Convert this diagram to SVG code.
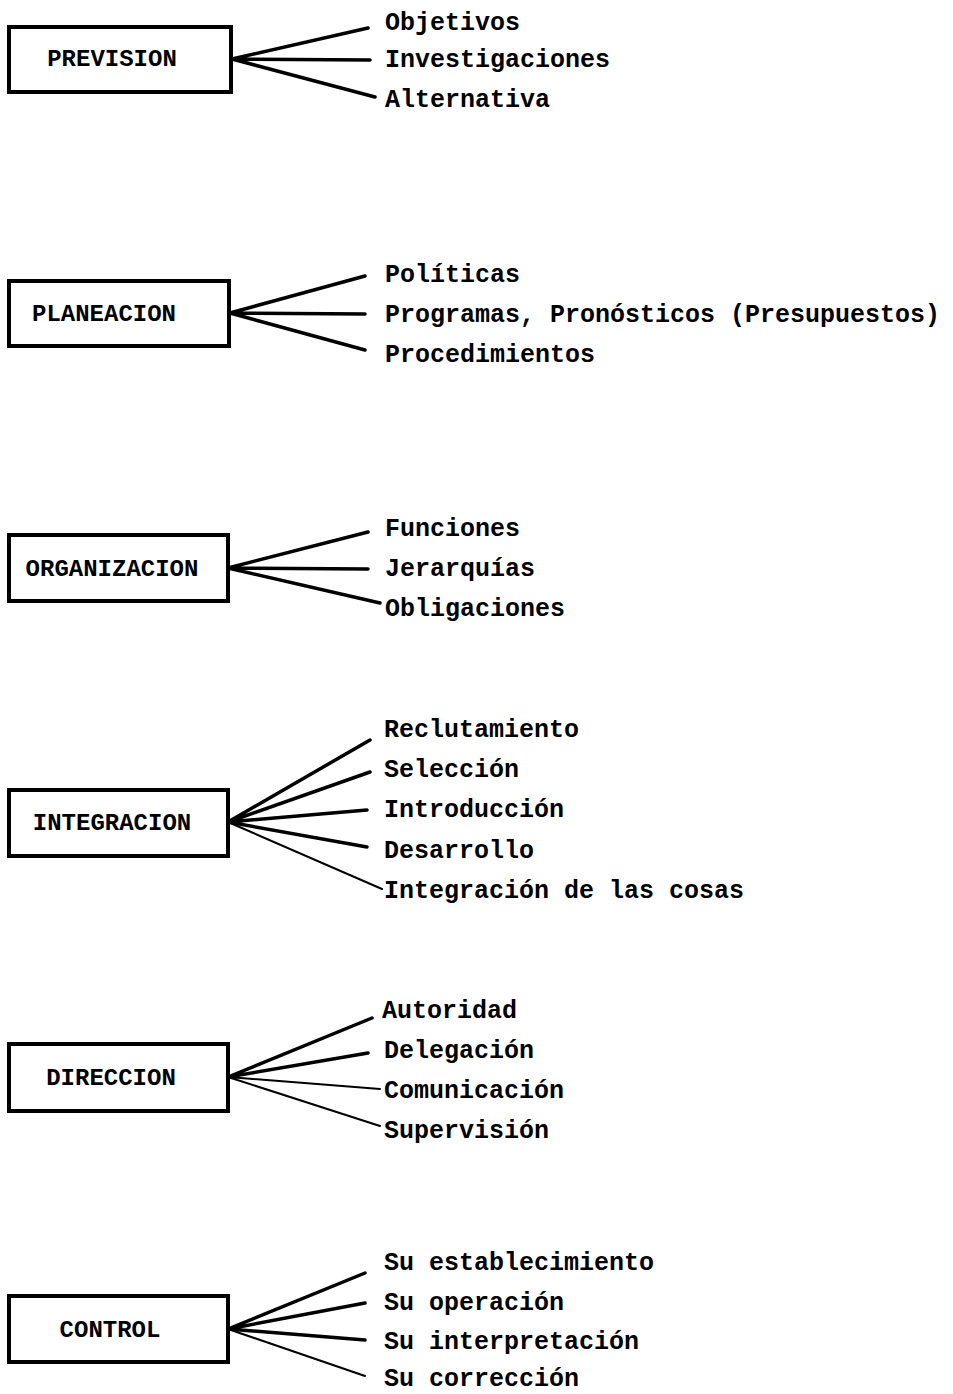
<svg xmlns="http://www.w3.org/2000/svg" width="953" height="1394" viewBox="0 0 953 1394">
<style>
.box{fill:none;stroke:#000;stroke-width:4}
.bl{font-family:"Liberation Mono","DejaVu Sans Mono",monospace;font-size:24px;font-weight:bold;fill:#000;text-anchor:middle}
.lb{font-family:"Liberation Mono","DejaVu Sans Mono",monospace;font-size:25px;font-weight:bold;fill:#000}
.c{stroke:#000;stroke-width:3.5;fill:none;stroke-linecap:round}
.t{stroke-width:2}
</style>
<rect width="953" height="1394" fill="#fff"/>
<g id="connectors">
<path class="c" d="M232 59L368 28M232 59L370 60M232 59L375 97"/>
<path class="c" d="M230 313L365 276M230 313L365 314M230 313L365 350"/>
<path class="c" d="M228 568L368 532M228 568L368 569M228 568L380 603"/>
<path class="c" d="M228 822L370 740M228 822L370 772M228 822L367 810M228 822L367 847"/>
<path class="c t" d="M228 822L382 889"/>
<path class="c" d="M228 1077L372 1018M228 1077L368 1053"/>
<path class="c t" d="M228 1077L380 1089M228 1077L380 1126"/>
<path class="c" d="M228 1329L365 1273M228 1329L365 1303M228 1329L365 1340"/>
<path class="c t" d="M228 1329L365 1376"/>
</g>
<g id="prevision">
<rect class="box" x="9" y="27" width="222" height="65"/>
<text class="bl" x="112" y="66">PREVISION</text>
<text class="lb" x="385" y="30">Objetivos</text>
<text class="lb" x="385" y="67">Investigaciones</text>
<text class="lb" x="385" y="107">Alternativa</text>
</g>
<g id="planeacion">
<rect class="box" x="9" y="281" width="220" height="65"/>
<text class="bl" x="104" y="321">PLANEACION</text>
<text class="lb" x="385" y="282">Políticas</text>
<text class="lb" x="385" y="322">Programas, Pronósticos (Presupuestos)</text>
<text class="lb" x="385" y="362">Procedimientos</text>
</g>
<g id="organizacion">
<rect class="box" x="9" y="535" width="219" height="66"/>
<text class="bl" x="112" y="576">ORGANIZACION</text>
<text class="lb" x="385" y="536">Funciones</text>
<text class="lb" x="385" y="576">Jerarquías</text>
<text class="lb" x="385" y="616">Obligaciones</text>
</g>
<g id="integracion">
<rect class="box" x="9" y="790" width="219" height="66"/>
<text class="bl" x="112" y="830">INTEGRACION</text>
<text class="lb" x="384" y="737">Reclutamiento</text>
<text class="lb" x="384" y="777">Selección</text>
<text class="lb" x="384" y="817">Introducción</text>
<text class="lb" x="384" y="858">Desarrollo</text>
<text class="lb" x="384" y="898">Integración de las cosas</text>
</g>
<g id="direccion">
<rect class="box" x="9" y="1044" width="219" height="67"/>
<text class="bl" x="111" y="1085">DIRECCION</text>
<text class="lb" x="382" y="1018">Autoridad</text>
<text class="lb" x="384" y="1058">Delegación</text>
<text class="lb" x="384" y="1098">Comunicación</text>
<text class="lb" x="384" y="1138">Supervisión</text>
</g>
<g id="control">
<rect class="box" x="9" y="1296" width="219" height="66"/>
<text class="bl" x="110" y="1337">CONTROL</text>
<text class="lb" x="384" y="1270">Su establecimiento</text>
<text class="lb" x="384" y="1310">Su operación</text>
<text class="lb" x="384" y="1349">Su interpretación</text>
<text class="lb" x="384" y="1386">Su corrección</text>
</g>
</svg>
